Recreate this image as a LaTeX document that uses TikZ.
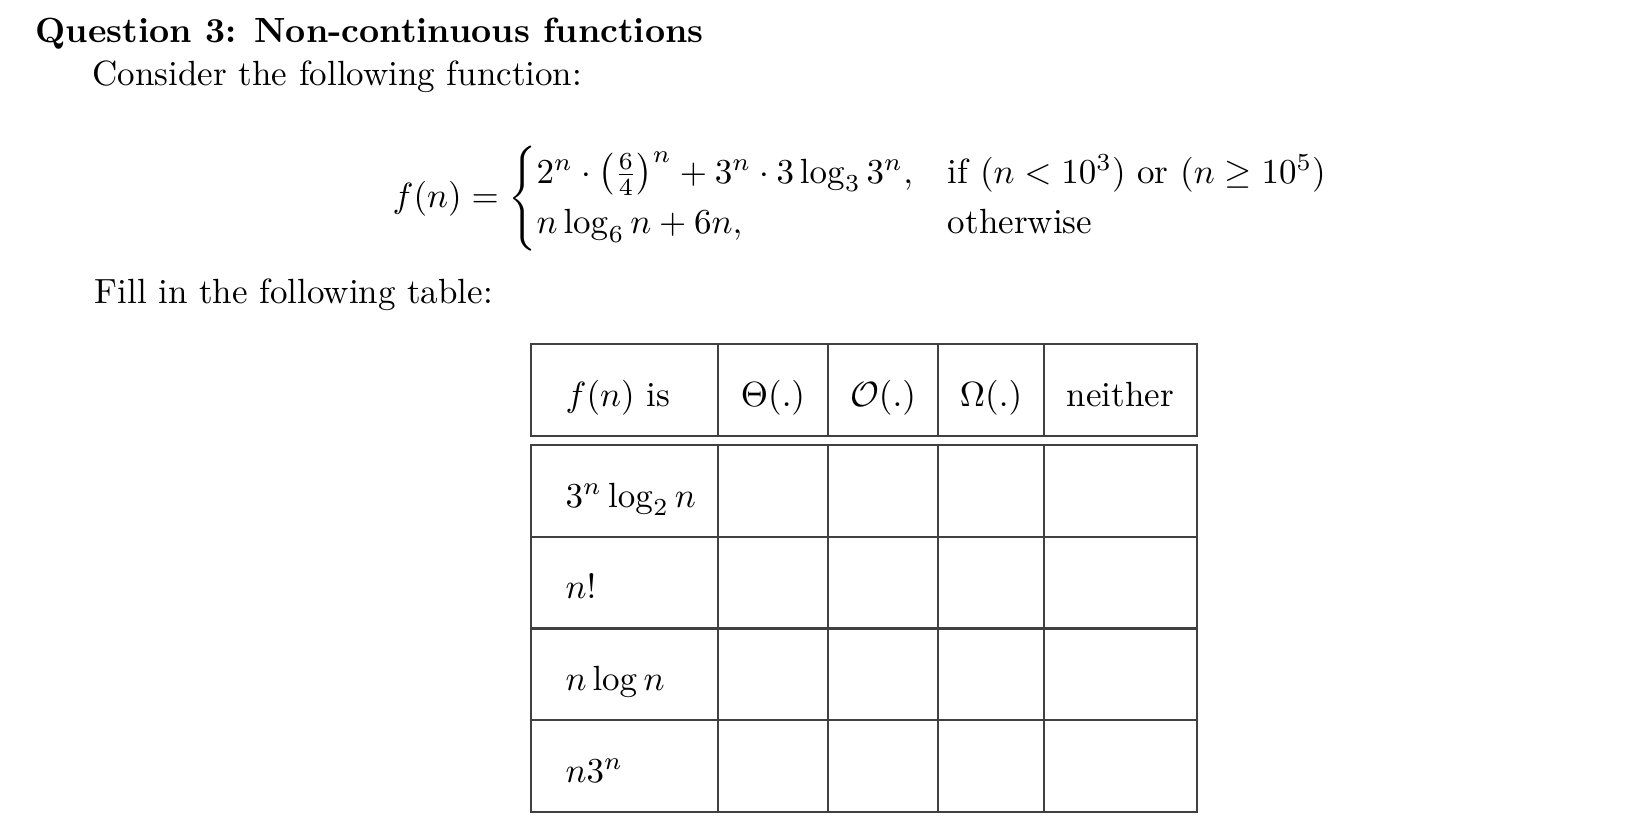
\documentclass[tikz,border=0pt]{standalone}
\usepackage{amsmath,amssymb}
\usepackage{tikz}
\tikzset{
	txt/.style={anchor=base west, inner sep=0pt},
	hdr/.style={anchor=base, inner sep=0pt},
	tabline/.style={draw=black!75, line width=0.6pt}
}

\begin{document}
\begin{tikzpicture}[x=0.2857pt, y=-0.2857pt]
	\useasboundingbox (0,0) rectangle (1634,838);
	\node[txt, font=\bfseries] (title) at (35,42) {Question 3: Non-continuous functions};
	\node[txt] (intro) at (92,85) {Consider the following function:};
	\node[txt] (fdef) at (392,207) {$f(n) = \begin{cases}
			2^n \cdot \left(\frac{6}{4}\right)^n + 3^n \cdot 3\log_3 3^n, & \text{if } (n < 10^3) \text{ or } (n \geq 10^5)\\
			n\log_6 n + 6n, & \text{otherwise}
		\end{cases}$};
	\node[txt] (fill) at (94,303) {Fill in the following table:};

	% header row
	\draw[tabline] (531,344) rectangle (1197,436);
	\foreach \x in {718,828,938,1044} \draw[tabline] (\x,344) -- (\x,436);
	\node[txt] (h0) at (565,406) {$f(n)$ is};
	\foreach \cx/\lbl [count=\i] in {773/$\Theta(.)$, 883/$\mathcal{O}(.)$, 991/$\Omega(.)$, 1120.5/neither}
		\node[hdr] (h\i) at (\cx,406) {\lbl};

	% body rows
	\draw[tabline] (531,445) rectangle (1197,812);
	\foreach \x in {718,828,938,1044} \draw[tabline] (\x,445) -- (\x,812);
	\foreach \y in {536.75,628.5,720.25} \draw[tabline] (531,\y) -- (1197,\y);
	\foreach \lbl [count=\i] in {$3^n\log_2 n$, $n!$, $n\log n$, $n3^n$}
		\node[txt] (r\i) at (565,{507+(\i-1)*91.75}) {\lbl};
\end{tikzpicture}
\end{document}
